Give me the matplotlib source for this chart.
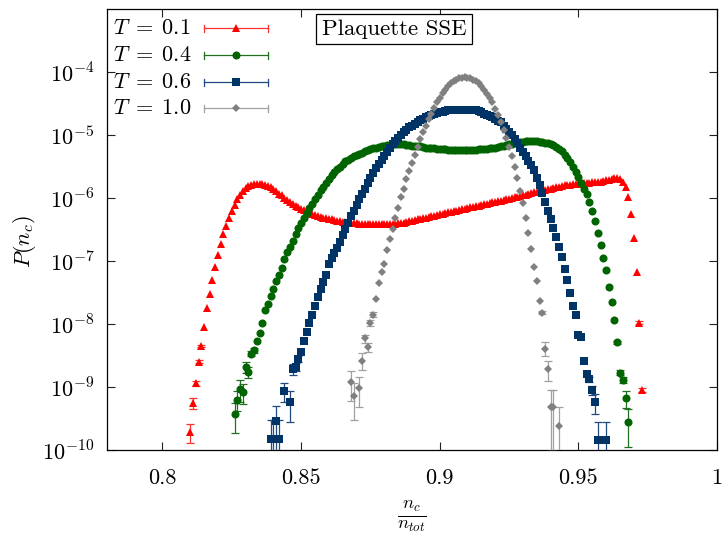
import numpy as np
import matplotlib
matplotlib.use("Agg")
import matplotlib.pyplot as plt
from matplotlib.ticker import NullLocator

plt.rcParams["mathtext.fontset"] = "cm"
plt.rcParams["font.family"] = "serif"
plt.rcParams["font.serif"] = ["cmr10", "DejaVu Serif"]

# ---------------------------------------------------------------
# Data: n_c / n_tot (in thousandths) and log10 P(n_c)
# ---------------------------------------------------------------
red_nc = list(range(810, 974))
red_logp = [
    -9.71, -9.26, -8.94, -8.60, -8.35, -8.04, -7.75, -7.53, -7.30, -7.10,
    -6.90, -6.73, -6.57, -6.44, -6.31, -6.20, -6.11, -6.02, -5.95, -5.89,
    -5.84, -5.81, -5.79, -5.78, -5.77, -5.77, -5.78, -5.79, -5.81, -5.83,
    -5.86, -5.89, -5.93, -5.96, -6.00, -6.03, -6.06, -6.09, -6.12, -6.14,
    -6.17, -6.19, -6.21, -6.23, -6.25, -6.27, -6.28, -6.30, -6.31, -6.32,
    -6.33, -6.34, -6.35, -6.36, -6.37, -6.38, -6.38, -6.39, -6.39, -6.40,
    -6.40, -6.41, -6.41, -6.41, -6.42, -6.42, -6.42, -6.42, -6.42, -6.42,
    -6.42, -6.42, -6.42, -6.41, -6.41, -6.40, -6.40, -6.39, -6.38, -6.37,
    -6.36, -6.35, -6.34, -6.33, -6.32, -6.31, -6.30, -6.29, -6.28, -6.27,
    -6.26, -6.25, -6.24, -6.23, -6.22, -6.21, -6.20, -6.19, -6.18, -6.17,
    -6.16, -6.15, -6.14, -6.13, -6.12, -6.11, -6.10, -6.09, -6.08, -6.07,
    -6.06, -6.05, -6.04, -6.03, -6.02, -6.01, -6.00, -5.99, -5.98, -5.97,
    -5.96, -5.95, -5.93, -5.92, -5.91, -5.90, -5.89, -5.88, -5.87, -5.86,
    -5.85, -5.84, -5.83, -5.82, -5.81, -5.80, -5.79, -5.79, -5.78, -5.78,
    -5.77, -5.77, -5.76, -5.76, -5.76, -5.75, -5.75, -5.74, -5.74, -5.73,
    -5.72, -5.71, -5.70, -5.68, -5.68, -5.70, -5.74, -5.83, -5.99, -6.25,
    -6.63, -7.17, -7.98, -9.05,
]
red_err_nc = [810, 811, 812, 813, 814, 972, 973]
red_err_rel = [0.33, 0.20, 0.10, 0.06, 0.04, 0.05, 0.08]

green_nc = list(range(826, 969))
green_logp = [
    -9.43, -9.20, -9.03, -9.08,
    -8.68, -8.76, -8.47, -8.42, -8.27, -8.15, -7.99, -7.78, -7.68, -7.55,
    -7.44, -7.31, -7.22, -7.11, -6.97, -6.86, -6.77, -6.68, -6.57, -6.48,
    -6.40, -6.32, -6.24, -6.16, -6.09, -6.02, -5.95, -5.88, -5.82, -5.76,
    -5.70, -5.64, -5.59, -5.54, -5.50, -5.46, -5.42, -5.39, -5.36, -5.34,
    -5.32, -5.30, -5.28, -5.26, -5.24, -5.22, -5.21, -5.20, -5.19, -5.18,
    -5.17, -5.16, -5.16, -5.15, -5.15, -5.15, -5.15, -5.15, -5.16, -5.16,
    -5.17, -5.17, -5.18, -5.18, -5.19, -5.20, -5.20, -5.21, -5.21, -5.22,
    -5.22, -5.23, -5.23, -5.24, -5.24, -5.24, -5.24, -5.24, -5.24, -5.24,
    -5.24, -5.24, -5.24, -5.24, -5.23, -5.23, -5.22, -5.22, -5.21, -5.20,
    -5.20, -5.19, -5.18, -5.17, -5.16, -5.15, -5.14, -5.13, -5.12, -5.11,
    -5.11, -5.10, -5.10, -5.10, -5.10, -5.10, -5.11, -5.11, -5.12, -5.13,
    -5.14, -5.16, -5.19, -5.22, -5.26, -5.31, -5.36, -5.43, -5.50, -5.58,
    -5.67, -5.76, -5.85, -5.94, -6.07, -6.21, -6.37, -6.56, -6.74, -6.96,
    -7.14, -7.42, -7.65, -7.93, -8.29, -8.77, -8.89, -9.18, -9.56,
]
green_err_nc = [826, 827, 828, 829, 830, 831, 832, 833, 964, 965, 966, 967, 968]
green_err_rel = [0.50, 0.35, 0.38, 0.35, 0.20, 0.20, 0.10, 0.08,
                 0.06, 0.08, 0.10, 0.30, 0.60]

blue_nc = [839, 840, 841, 842, 844, 846] + list(range(847, 958)) + [960]
blue_logp = [
    -9.83, -9.83, -9.54, -9.83, -9.06, -9.24,
    -8.72, -8.68, -8.55,
    -8.45, -8.27, -8.12, -7.98, -7.85, -7.72, -7.57, -7.45, -7.34, -7.22,
    -7.05, -6.96, -6.88, -6.80, -6.70, -6.59, -6.49, -6.40, -6.29, -6.20,
    -6.11, -6.02, -5.93, -5.85, -5.76, -5.68, -5.60, -5.53, -5.46, -5.39,
    -5.33, -5.27, -5.21, -5.15, -5.10, -5.05, -5.00, -4.96, -4.92, -4.88,
    -4.85, -4.82, -4.79, -4.76, -4.74, -4.72, -4.70, -4.68, -4.67, -4.65,
    -4.64, -4.63, -4.62, -4.61, -4.61, -4.60, -4.60, -4.60, -4.60, -4.60,
    -4.60, -4.60, -4.61, -4.61, -4.62, -4.64, -4.66, -4.68, -4.70, -4.72,
    -4.74, -4.77, -4.80, -4.85, -4.90, -4.95, -5.00, -5.06, -5.13, -5.20,
    -5.27, -5.34, -5.41, -5.48, -5.56, -5.68, -5.80, -5.92, -6.06, -6.20,
    -6.33, -6.47, -6.62, -6.77, -6.94, -7.12, -7.30, -7.51, -7.71, -7.85,
    -8.18, -8.21, -8.58, -8.79, -8.88, -9.05, -9.24, -9.84,
    -9.84,
]
blue_err_nc = [839, 840, 841, 842, 844, 846, 847, 848, 849, 954, 955, 956, 957, 960]
blue_err_rel = [1.0, 1.0, 0.75, 1.0, 0.33, 0.52, 0.20, 0.15, 0.10,
                0.10, 0.15, 0.35, 0.95, 0.95]

gray_nc = [868, 869] + list(range(871, 942)) + [943]
gray_logp = [
    -8.92, -9.14,
    -9.01, -8.58, -8.23, -8.37, -7.98, -7.85, -7.60, -7.35, -7.18,
    -7.04, -6.83, -6.65, -6.49, -6.32, -6.16, -5.99, -5.86, -5.70, -5.57,
    -5.44, -5.31, -5.19, -5.07, -4.96, -4.86, -4.75, -4.66, -4.57, -4.48,
    -4.41, -4.34, -4.28, -4.22, -4.18, -4.14, -4.12, -4.10, -4.09, -4.08,
    -4.09, -4.10, -4.12, -4.15, -4.18, -4.23, -4.28, -4.35, -4.41, -4.48,
    -4.58, -4.69, -4.80, -4.92, -5.05, -5.19, -5.34, -5.50, -5.68, -5.89,
    -6.08, -6.31, -6.55, -6.81, -7.09, -7.32, -7.64, -7.82, -8.39, -8.71,
    -9.31, -9.31,
    -9.62,
]
gray_err_nc = [868, 869, 871, 872, 873, 874, 875, 876, 937, 938, 939, 940, 941, 943]
gray_err_rel = [0.50, 0.58, 0.50, 0.30, 0.15, 0.15, 0.12, 0.08,
                0.05, 0.25, 0.35, 0.80, 0.80, 1.00]

labels = [r"$T\;=\;0.1$", r"$T\;=\;0.4$", r"$T\;=\;0.6$", r"$T\;=\;1.0$"]
colors = ["#ff0000", "#006400", "#003366", "#808080"]
ecolors = ["#ff3030", "#207020", "#204a80", "#a0a0a0"]
markers = ["^", "o", "s", "D"]
msizes = [6.0, 5.8, 5.7, 4.3]

series = [
    (red_nc, red_logp, red_err_nc, red_err_rel),
    (green_nc, green_logp, green_err_nc, green_err_rel),
    (blue_nc, blue_logp, blue_err_nc, blue_err_rel),
    (gray_nc, gray_logp, gray_err_nc, gray_err_rel),
]

W, H = 723, 534
fig = plt.figure(figsize=(W / 100, H / 100), dpi=100)
L, R, T, B = 107, 717, 9, 450
ax = fig.add_axes([L / W, 1 - B / H, (R - L) / W, (B - T) / H])

for k, (nc, logp, enc, erel) in enumerate(series):
    x = np.array(nc) / 1000.0
    p = 10.0 ** np.array(logp)
    lookup = dict(zip(nc, p))
    ex = np.array(enc) / 1000.0
    ep = np.array([lookup[n] for n in enc])
    dp = ep * np.array(erel)
    lo = np.minimum(dp, ep - 1e-13)
    ax.errorbar(ex, ep, yerr=[lo, dp], fmt="none", ecolor=ecolors[k],
                elinewidth=0.9, capsize=2.6, capthick=0.9, zorder=2 + 2 * k)
    ax.plot(x, p, linestyle="none", marker=markers[k], color=colors[k],
            markersize=msizes[k], markeredgewidth=0, zorder=3 + 2 * k)

ax.set_yscale("log")
ax.set_xlim(0.78, 1.0)
ax.set_ylim(1e-10, 1e-3)

ax.set_xticks([0.8, 0.85, 0.9, 0.95, 1.0])
ax.set_xticklabels(["0.8", "0.85", "0.9", "0.95", "1"])
yt = [1e-10, 1e-9, 1e-8, 1e-7, 1e-6, 1e-5, 1e-4]
ax.set_yticks(yt)
ax.set_yticklabels([r"$10^{-%d}$" % e for e in range(10, 3, -1)])
ax.yaxis.set_minor_locator(NullLocator())
ax.xaxis.set_minor_locator(NullLocator())
ax.tick_params(which="major", direction="in", top=True, right=True,
               length=5.5, width=0.8, labelsize=16, color="#222222")
ax.tick_params(axis="x", pad=13)
ax.tick_params(axis="y", pad=9)
for s in ax.spines.values():
    s.set_linewidth(0.9)

fig.text(25 / W, 1 - 242 / H, r"$P(n_c)$", rotation=90, fontsize=16,
         ha="center", va="center")
fig.text(412 / W, 1 - 516 / H, r"$\frac{n_c}{n_{tot}}$", fontsize=19,
         ha="center", va="center")

# key: text, horizontal error-bar sample and marker
def fx(px):
    return (px - L) / (R - L)

def fy(py):
    return (B - py) / (B - T)

rows = [28, 55, 82, 108]
x0, x1, xm = 204, 268, 236
for k in range(4):
    yy = fy(rows[k])
    ax.text(fx(113), yy, labels[k], transform=ax.transAxes, fontsize=16,
            ha="left", va="center")
    ax.plot([fx(x0), fx(x1)], [yy, yy], transform=ax.transAxes,
            color=ecolors[k], lw=0.9, clip_on=False, zorder=20)
    for xe in (x0, x1):
        ax.plot([fx(xe), fx(xe)], [fy(rows[k] - 3.5), fy(rows[k] + 3.5)],
                transform=ax.transAxes, color=ecolors[k], lw=0.9,
                clip_on=False, zorder=20)
    ax.plot([fx(xm)], [yy], transform=ax.transAxes, marker=markers[k],
            color=colors[k], markersize=msizes[k], markeredgewidth=0,
            linestyle="none", clip_on=False, zorder=21)

ax.text(fx(394), fy(29), "Plaquette SSE", transform=ax.transAxes,
        fontsize=16.5, ha="center", va="center", zorder=22,
        bbox=dict(boxstyle="square,pad=0.25", facecolor="white",
                  edgecolor="black", linewidth=0.9))

fig.savefig("out.png", dpi=100)
